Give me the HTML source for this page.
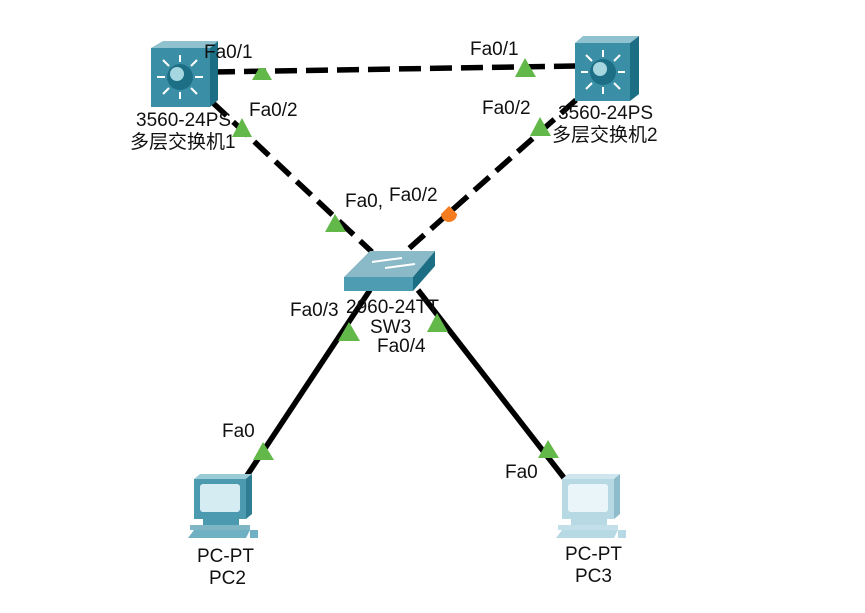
<!DOCTYPE html>
<html><head><meta charset="utf-8"><style>
body{margin:0;background:#fff;}
svg{display:block;}
text{font-family:"Liberation Sans","Noto Sans CJK SC",sans-serif;font-size:19px;fill:#111;}
</style></head><body>
<svg width="865" height="613" viewBox="0 0 865 613">
<rect width="865" height="613" fill="#fff"/>
<g stroke="#000" stroke-width="5.5" fill="none">
<line x1="213" y1="72" x2="577" y2="66" stroke-dasharray="22,9"/>
<line x1="212" y1="102" x2="372" y2="252" stroke-dasharray="20,9"/>
<line x1="576" y1="100" x2="405" y2="252" stroke-dasharray="20,9"/>
<line x1="370" y1="290" x2="244" y2="480"/>
<line x1="418" y1="290" x2="568" y2="483"/>
</g>
<g fill="#63b84a">
<polygon points="262,63 252,80 272,80"/>
<polygon points="242,118 232,137 252,137"/>
<polygon points="335,214 325,232 346,232"/>
<polygon points="525,58 515,77 536,77"/>
<polygon points="540,117 530,136 551,136"/>
<polygon points="349,322 338,341 360,341"/>
<polygon points="437,313 427,332 448,332"/>
<polygon points="263,442 253,460 274,460"/>
<polygon points="548,440 538,458 559,458"/>
</g>
<path d="M441,214 a8,8 0 1 0 16,0 l-8,-8 z" fill="#f57c1f"/>
<rect x="196" y="40" width="72" height="28" fill="#fff"/>
<g>
<polygon points="151,48 163,41 218,41 210,48" fill="#8fc1cf"/>
<polygon points="210,48 218,41 218,100 210,107" fill="#1c6e84"/>
<rect x="151" y="48" width="59" height="59" fill="#3a8fa6"/>
<circle cx="180" cy="77" r="13" fill="#1d6f85"/><circle cx="177" cy="74" r="7" fill="#a6d6e0"/>
<g stroke="#fff" stroke-width="2"><line x1="180" y1="62" x2="180" y2="55"/><line x1="180" y1="92" x2="180" y2="99"/><line x1="165" y1="77" x2="157" y2="77"/><line x1="195" y1="77" x2="203" y2="77"/><line x1="169" y1="66" x2="163" y2="60"/><line x1="191" y1="66" x2="197" y2="60"/><line x1="169" y1="88" x2="163" y2="94"/><line x1="191" y1="88" x2="197" y2="94"/></g>
</g>
<g>
<polygon points="575,43 583,36 639,36 630,43" fill="#8fc1cf"/>
<polygon points="630,43 639,36 639,94 630,101" fill="#1c6e84"/>
<rect x="575" y="43" width="55" height="58" fill="#3a8fa6"/>
<circle cx="603" cy="72" r="13" fill="#1d6f85"/><circle cx="600" cy="69" r="7" fill="#a6d6e0"/>
<g stroke="#fff" stroke-width="2"><line x1="603" y1="57" x2="603" y2="50"/><line x1="603" y1="87" x2="603" y2="94"/><line x1="588" y1="72" x2="581" y2="72"/><line x1="618" y1="72" x2="625" y2="72"/><line x1="592" y1="61" x2="586" y2="55"/><line x1="614" y1="61" x2="620" y2="55"/><line x1="592" y1="83" x2="586" y2="89"/><line x1="614" y1="83" x2="620" y2="89"/></g>
</g>
<g>
<polygon points="344,277 370,251 435,251 413,277" fill="#8ab9c7"/>
<rect x="344" y="277" width="69" height="14" fill="#4e9cb1"/>
<polygon points="413,277 435,251 435,266 413,291" fill="#1c6e84"/>
<g stroke="#fff" stroke-width="2"><line x1="372" y1="262" x2="402" y2="258"/><line x1="385" y1="268" x2="415" y2="264"/></g>
</g>
<g>
<polygon points="194,479 200,474 252,474 246,479" fill="#9ccbd8"/>
<polygon points="246,479 252,474 252,514 246,519" fill="#2e7d93"/>
<rect x="194" y="479" width="52" height="40" fill="#4c9ab0"/>
<rect x="200" y="484" width="40" height="28" rx="3" fill="#d4ecf2"/>
<rect x="203" y="519" width="36" height="6" fill="#4c9ab0"/>
<rect x="190" y="525" width="60" height="5" fill="#7fb6c6"/>
<polygon points="188,538 194,530 250,530 246,538" fill="#6fb0c2"/>
<rect x="250" y="530" width="8" height="8" fill="#6fb0c2"/>
</g>
<g>
<polygon points="562,479 568,474 620,474 614,479" fill="#cfe6ee"/>
<polygon points="614,479 620,474 620,514 614,519" fill="#8fbccb"/>
<rect x="562" y="479" width="52" height="40" fill="#b7d9e4"/>
<rect x="568" y="484" width="40" height="28" rx="3" fill="#e9f5f9"/>
<rect x="571" y="519" width="36" height="6" fill="#b7d9e4"/>
<rect x="558" y="525" width="60" height="5" fill="#c3e0ea"/>
<polygon points="556,538 562,530 618,530 614,538" fill="#b7d9e4"/>
<rect x="618" y="530" width="8" height="8" fill="#b7d9e4"/>
</g>
<text x="204" y="58">Fa0/1</text>
<text x="249" y="116">Fa0/2</text>
<text x="136" y="126">3560-24PS</text>
<text x="130" y="148">多层交换机1</text>
<text x="470" y="55">Fa0/1</text>
<text x="482" y="114">Fa0/2</text>
<text x="558" y="119">3560-24PS</text>
<text x="552" y="141">多层交换机2</text>
<text x="345" y="207">Fa0,</text>
<text x="389" y="201">Fa0/2</text>
<text x="346" y="313">2960-24TT</text>
<text x="370" y="333">SW3</text>
<text x="290" y="316">Fa0/3</text>
<text x="377" y="352">Fa0/4</text>
<text x="222" y="437">Fa0</text>
<text x="505" y="478">Fa0</text>
<text x="197" y="562">PC-PT</text>
<text x="209" y="584">PC2</text>
<text x="565" y="560">PC-PT</text>
<text x="575" y="582">PC3</text>
</svg>
</body></html>
